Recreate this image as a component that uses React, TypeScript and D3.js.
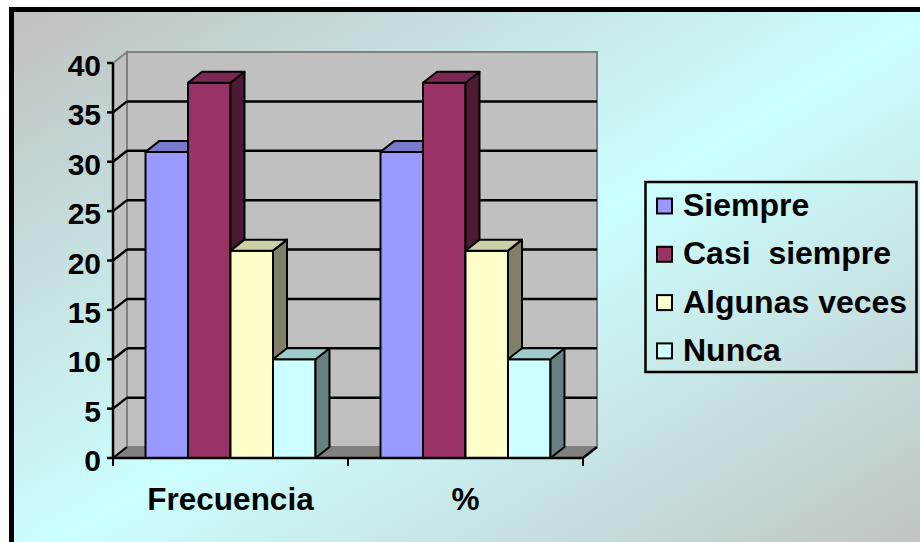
import * as d3 from "d3";
import React from "react";

const categories = ["Frecuencia", "%"];
const seriesNames = ["Siempre", "Casi  siempre", "Algunas veces", "Nunca"];
const siempre = [31, 31];
const casiSiempre = [38, 38];
const algunasVeces = [21, 21];
const nunca = [10, 10];
const yTicks = [0, 5, 10, 15, 20, 25, 30, 35, 40];

const seriesValues = [siempre, casiSiempre, algunasVeces, nunca];
// front, top, side
const palette = [
  ["#9999ff", "#7a7acc", "#5c5c99"],
  ["#993366", "#7a2952", "#4d1a33"],
  ["#ffffcc", "#cfcfa6", "#808066"],
  ["#ccffff", "#9ecccc", "#668080"],
];

const font = "'Liberation Sans', Arial, sans-serif";

export default function App() {
  const dx = 14;
  const dy = -11;
  const x0 = d3.scaleBand<string>().domain(categories).range([113, 583]);
  const x1 = d3
    .scaleBand<string>()
    .domain(seriesNames)
    .range([0, x0.bandwidth()])
    .paddingInner(0)
    .paddingOuter(0.765);
  const y = d3.scaleLinear().domain([0, 40]).range([458, 63]);
  const left = x0.range()[0];
  const right = x0.range()[1];

  const pts = (p: number[][]) => p.map((d) => d.join(",")).join(" ");

  return (
    <svg width={920} height={542} style={{ position: "absolute", left: 0, top: 0 }}>
      <defs>
        <linearGradient id="bg" x1="0" y1="0" x2="1" y2="1">
          <stop offset="0" stopColor="#c0c0c0" />
          <stop offset="0.5" stopColor="#ccffff" />
          <stop offset="1" stopColor="#c0c0c0" />
        </linearGradient>
      </defs>
      <rect x={0} y={0} width={920} height={542} fill="#fff" />
      <rect x={11.5} y={9.5} width={930} height={560} fill="url(#bg)" stroke="#000" strokeWidth={5} />

      {/* walls */}
      <polygon
        points={pts([[left, y(40)], [left + dx, y(40) + dy], [left + dx, y(0) + dy], [left, y(0)]])}
        fill="#c0c0c0" stroke="#808080" strokeWidth={2}
      />
      <rect
        x={left + dx} y={y(40) + dy} width={right - left} height={y(0) - y(40)}
        fill="#c0c0c0" stroke="#808080" strokeWidth={2}
      />
      <polygon
        points={pts([[left, y(0)], [right, y(0)], [right + dx, y(0) + dy], [left + dx, y(0) + dy]])}
        fill="#808080" stroke="#808080" strokeWidth={1}
      />

      {/* gridlines */}
      {yTicks.filter((t) => t > 0 && t < 40).map((t) => (
        <g key={t}>
          <line x1={left + dx} x2={right + dx} y1={y(t) + dy} y2={y(t) + dy} stroke="#000" strokeWidth={2.5} />
          <line x1={left} x2={left + dx} y1={y(t)} y2={y(t) + dy} stroke="#000" strokeWidth={2.5} />
        </g>
      ))}
      <line x1={left} x2={left + dx} y1={y(0)} y2={y(0) + dy} stroke="#000" strokeWidth={2} />
      <line x1={right} x2={right + dx} y1={y(0)} y2={y(0) + dy} stroke="#000" strokeWidth={2.5} />

      {/* bars */}
      {categories.map((c, ci) =>
        seriesNames.map((s, si) => {
          const bx0 = (x0(c) as number) + (x1(s) as number);
          const bx1 = bx0 + x1.bandwidth();
          const yt = y(seriesValues[si][ci]);
          const yb = y(0);
          const col = palette[si];
          return (
            <g key={c + s} stroke="#000" strokeWidth={2} strokeLinejoin="round">
              <rect x={bx0} y={yt} width={bx1 - bx0} height={yb - yt} fill={col[0]} />
              <polygon points={pts([[bx1, yt], [bx1 + dx, yt + dy], [bx1 + dx, yb + dy], [bx1, yb]])} fill={col[2]} />
              <polygon points={pts([[bx0, yt], [bx1, yt], [bx1 + dx, yt + dy], [bx0 + dx, yt + dy]])} fill={col[1]} />
            </g>
          );
        })
      )}

      {/* axes */}
      <line x1={left} x2={left} y1={y(40)} y2={y(0)} stroke="#000" strokeWidth={2.5} />
      <line x1={left} x2={right} y1={y(0)} y2={y(0)} stroke="#000" strokeWidth={2.5} />
      {yTicks.map((t) => (
        <g key={t}>
          <line x1={left - 6} x2={left} y1={y(t)} y2={y(t)} stroke="#000" strokeWidth={2.5} />
          <text x={101} y={y(t) + 13} textAnchor="end" fontFamily={font} fontWeight="bold" fontSize={30} fill="#000">
            {t}
          </text>
        </g>
      ))}
      {[left, left + x0.bandwidth(), right].map((v) => (
        <line key={v} x1={v} x2={v} y1={y(0)} y2={y(0) + 8} stroke="#000" strokeWidth={2} />
      ))}
      {categories.map((c) => (
        <text
          key={c}
          x={(x0(c) as number) + x0.bandwidth() / 2}
          y={510}
          textAnchor="middle"
          fontFamily={font}
          fontWeight="bold"
          fontSize={31.5}
          fill="#000"
        >
          {c}
        </text>
      ))}

      {/* legend */}
      <rect x={645.5} y={182} width={271} height={190} fill="none" stroke="#000" strokeWidth={2.5} />
      {seriesNames.map((s, i) => {
        const cy = 206 + i * 48.3;
        return (
          <g key={s}>
            <rect x={657} y={cy - 7.5} width={15} height={15} fill={palette[i][0]} stroke="#000" strokeWidth={2} />
            <text
              x={683}
              y={cy + 10}
              fontFamily={font}
              fontWeight="bold"
              fontSize={32}
              fill="#000"
              style={{ whiteSpace: "pre" }}
            >
              {s}
            </text>
          </g>
        );
      })}
    </svg>
  );
}
